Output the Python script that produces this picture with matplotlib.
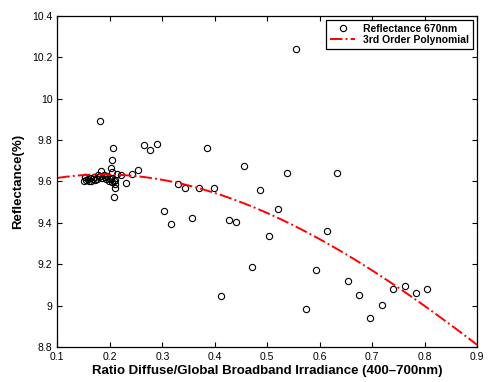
"""Reflectance at 670nm against diffuse/global irradiance ratio."""

import numpy as np
import matplotlib
matplotlib.use('Agg')
import matplotlib.pyplot as plt

plt.rcParams['font.family'] = ['Liberation Sans', 'DejaVu Sans']

# scatter points (ratio, reflectance %)
ratio = [
    0.150, 0.152, 0.155, 0.158, 0.160, 0.163, 0.165, 0.168, 0.170, 0.172,
    0.175, 0.178, 0.180, 0.182, 0.185, 0.188, 0.190, 0.192, 0.195, 0.198,
    0.200, 0.203, 0.205, 0.207, 0.209, 0.210, 0.152, 0.183, 0.204, 0.214,
    0.181, 0.206, 0.205, 0.2025, 0.209, 0.208, 0.221, 0.231, 0.242, 0.253,
    0.265, 0.277, 0.290, 0.303, 0.316, 0.329, 0.343, 0.356, 0.370, 0.385,
    0.398, 0.412, 0.427, 0.441, 0.456, 0.471, 0.487, 0.503, 0.520, 0.538,
    0.555, 0.574, 0.593, 0.613, 0.633, 0.654, 0.675, 0.696, 0.718, 0.740,
    0.762, 0.783, 0.805,
]
reflectance = [
    9.600, 9.620, 9.605, 9.610, 9.600, 9.615, 9.600, 9.610, 9.620, 9.605,
    9.610, 9.630, 9.620, 9.625, 9.615, 9.630, 9.620, 9.610, 9.625, 9.600,
    9.610, 9.615, 9.595, 9.600, 9.585, 9.605, 9.622, 9.650, 9.647, 9.636,
    9.893, 9.761, 9.702, 9.663, 9.567, 9.523, 9.630, 9.592, 9.636, 9.657,
    9.776, 9.750, 9.780, 9.457, 9.396, 9.588, 9.570, 9.424, 9.568, 9.760,
    9.568, 9.048, 9.413, 9.404, 9.676, 9.187, 9.557, 9.334, 9.467, 9.641,
    10.238, 8.983, 9.171, 9.361, 9.641, 9.118, 9.052, 8.938, 9.001, 9.080,
    9.096, 9.061, 9.080,
]

# points
fit_x = [0.10, 0.20, 0.30, 0.40, 0.486, 0.614, 0.696, 0.804, 0.891]
fit_y = [9.617, 9.630, 9.610, 9.550, 9.454, 9.300, 9.180, 8.990, 8.827]

coef = np.polyfit(fit_x, fit_y, 3)
xs = np.linspace(0.1, 0.9, 200)

fig = plt.figure(figsize=(4.88, 3.82), dpi=100)
ax = fig.add_axes([0.1175, 0.0916, 0.8605, 0.8673])

ax.plot(ratio, reflectance, linestyle='none', marker='o', markersize=4.5,
        markerfacecolor='none', markeredgecolor='black', markeredgewidth=0.8,
        label='Reflectance 670nm')
ax.plot(xs, np.polyval(coef, xs), color='red', linestyle='-.', linewidth=1.4,
        label='3rd Order Polynomial')

ax.set_xlim(0.1, 0.9)
ax.set_ylim(8.8, 10.4)
ax.set_xticks(np.arange(0.1, 0.91, 0.1))
ax.set_xticklabels(['0.1', '0.2', '0.3', '0.4', '0.5', '0.6', '0.7', '0.8', '0.9'])
ax.set_yticks(np.arange(8.8, 10.41, 0.2))
ax.set_yticklabels(['8.8', '9', '9.2', '9.4', '9.6', '9.8', '10', '10.2', '10.4'])
ax.tick_params(direction='in', top=True, right=True, labelsize=7.5, length=3.5, width=0.8)
for s in ax.spines.values():
    s.set_linewidth(0.9)

ax.set_xlabel('Ratio Diffuse/Global Broadband Irradiance (400\u2013700nm)',
              fontsize=9.5, fontweight='bold', labelpad=2)
ax.set_ylabel('Reflectance(%)', fontsize=9.5, fontweight='bold', labelpad=6)

leg = ax.legend(loc='upper right', fancybox=False, edgecolor='black',
                prop={'weight': 'bold', 'size': 7.5}, borderpad=0.35,
                labelspacing=0.15, handlelength=2.4, borderaxespad=0.4,
                framealpha=1)
leg.get_frame().set_linewidth(0.9)

fig.savefig('out.png', dpi=100)
